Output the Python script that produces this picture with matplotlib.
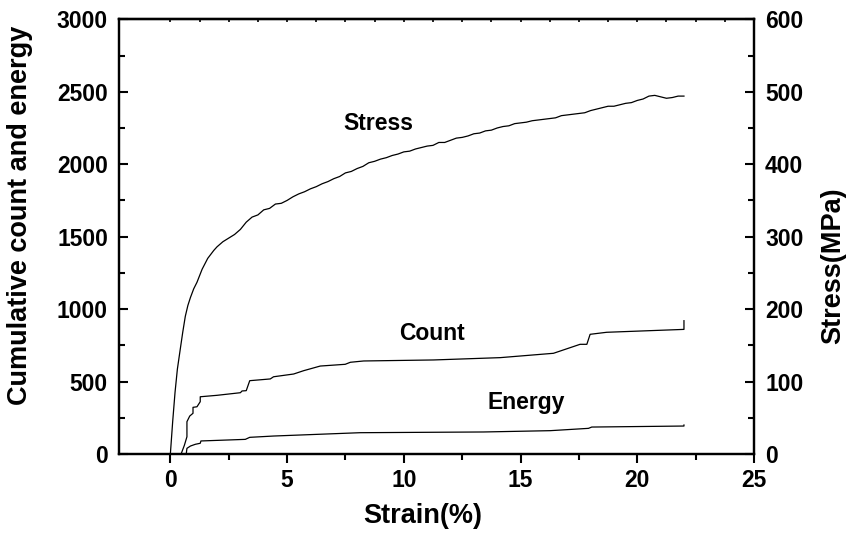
import numpy as np
import matplotlib
matplotlib.use("Agg")
import matplotlib.pyplot as plt
from matplotlib.ticker import MultipleLocator

# Tensile stress-strain curve (right axis, MPa)
stress_strain = [0, 0.1, 0.2, 0.3, 0.43, 0.53, 0.64, 0.75, 0.86, 1.0, 1.14, 1.36,
                 1.6, 1.86,
                 2.0, 2.25, 2.5, 2.75, 3.0, 3.25, 3.5, 3.75, 4.0, 4.25, 4.5, 4.75,
                 5.0, 5.25, 5.5, 5.75, 6.0, 6.25, 6.5, 6.75, 7.0, 7.25, 7.5, 7.75,
                 8.0, 8.25, 8.5, 8.75, 9.0, 9.25, 9.5, 9.75, 10.0, 10.25, 10.5, 10.75,
                 11.0, 11.25, 11.5, 11.75, 12.0, 12.25, 12.5, 12.75, 13.0, 13.25,
                 13.5, 13.75, 14.0, 14.25, 14.5, 14.75, 15.0, 15.25, 15.5, 15.75,
                 16.0, 16.25, 16.5, 16.75, 17.0, 17.25, 17.5, 17.75, 18.0, 18.25,
                 18.5, 18.75, 19.0, 19.25, 19.5, 19.75, 20.0, 20.25, 20.5, 20.75,
                 21.0, 21.25, 21.5, 21.75, 22.0]
stress_mpa = [0, 45, 85, 117, 146, 168, 190, 205, 216, 228, 237, 255,
              270, 281,
              286, 293, 298, 303, 310, 320, 327, 330, 337, 339, 345, 346,
              350, 355, 359, 362, 366, 369, 373, 376, 380, 383, 388, 390,
              394, 397, 402, 404, 407, 409, 412, 414, 417, 418, 421, 423,
              425, 426, 430, 430, 433, 436, 437, 439, 442, 443,
              446, 447, 450, 452, 453, 456, 457, 458, 460, 461,
              462, 463, 464, 467, 468, 469, 470, 471, 474, 476,
              478, 480, 480, 482, 484, 485, 488, 490, 494, 495,
              493, 491, 492, 494, 494]

# Cumulative acoustic-emission count (left axis)
count_strain = [0.46, 0.6, 0.71, 0.71, 0.83, 0.97, 0.97, 1.14, 1.28, 1.28, 2.0,
                3.0, 3.07, 3.25, 3.4, 4.28, 4.42, 5.28, 5.71, 6.42, 7.49, 7.71,
                8.28, 11.27, 14.13, 16.41, 17.55, 17.84, 17.98, 18.69, 22.0, 22.0]
count_vals = [0, 60, 119, 223, 262, 281, 322, 326, 361, 395, 405,
              423, 435, 437, 506, 518, 533, 552, 575, 607, 619, 633,
              642, 649, 665, 695, 757, 757, 826, 840, 860, 920]

# Cumulative acoustic-emission energy (left axis)
energy_strain = [0.68, 0.71, 0.86, 1.07, 1.28, 1.31, 3.21, 3.4, 4.42, 8.13,
                 13.41, 16.27, 17.91, 18.05, 22.0, 22.0]
energy_vals = [0, 39, 55, 67, 74, 90, 101, 115, 124, 147,
               152, 161, 177, 186, 193, 200]

x_ticks = [0, 5, 10, 15, 20, 25]
left_ticks = [0, 500, 1000, 1500, 2000, 2500, 3000]
right_ticks = [0, 100, 200, 300, 400, 500, 600]

FONT = "Liberation Sans"
plt.rcParams["font.family"] = [FONT, "DejaVu Sans"]
plt.rcParams["font.weight"] = "bold"

fig = plt.figure(figsize=(8.53, 5.35), dpi=100)
ax = fig.add_axes([119 / 853, 81 / 535, 635 / 853, 434.7 / 535])
ax2 = ax.twinx()

lw = 0.9
ax.plot(count_strain, count_vals, color="black", lw=lw)
ax.plot(energy_strain, energy_vals, color="black", lw=lw)
ax2.plot(stress_strain, stress_mpa, color="black", lw=lw)

ax.set_xlim(-2.2, 25)
ax.set_ylim(0, 3000)
ax2.set_ylim(0, 600)

ax.set_xticks(x_ticks)
ax.xaxis.set_minor_locator(MultipleLocator(2.5))
ax.set_yticks(left_ticks)
ax.yaxis.set_minor_locator(MultipleLocator(250))
ax2.set_yticks(right_ticks)
ax2.yaxis.set_minor_locator(MultipleLocator(50))

tick_fs = 16.5
ax.tick_params(axis="x", which="major", direction="out", length=6.5, width=1.5,
               labelsize=tick_fs, pad=4, top=False)
ax.tick_params(axis="x", which="minor", direction="out", length=4, width=1.5, top=False)
ax.tick_params(axis="y", which="major", direction="in", length=6.5, width=1.5,
               labelsize=tick_fs, pad=8, right=False)
ax.tick_params(axis="y", which="minor", direction="in", length=4.5, width=1.5, right=False)
ax2.tick_params(axis="y", which="major", direction="in", length=6.5, width=1.5,
                labelsize=tick_fs, pad=8)
ax2.tick_params(axis="y", which="minor", direction="in", length=4.5, width=1.5)

# small inward ticks along the top frame
top = ax.secondary_xaxis("top")
top.set_xticks(np.arange(0, 25.01, 1.25))
top.tick_params(direction="in", length=2.5, width=1.2, labeltop=False)

for a in (ax, ax2):
    for s in a.spines.values():
        s.set_linewidth(1.6)
top.spines["top"].set_linewidth(1.6)

for lab in ax.get_xticklabels() + ax.get_yticklabels() + ax2.get_yticklabels():
    lab.set_fontweight("bold")

label_fs = 19.5
ax.set_xlabel("Strain(%)", fontsize=label_fs, fontweight="bold")
ax.xaxis.set_label_coords(0.479, -0.112)
ax.set_ylabel("Cumulative count and energy", fontsize=label_fs, fontweight="bold")
ax.yaxis.set_label_coords(-0.135, 0.55)
ax2.set_ylabel("Stress(MPa)", fontsize=label_fs, fontweight="bold")
ax2.yaxis.set_label_coords(1.104, 0.4325)

ann_fs = 16.5
ax.text(8.9, 2236, "Stress", fontsize=ann_fs, fontweight="bold", ha="center", va="baseline")
ax.text(11.2, 787, "Count", fontsize=ann_fs, fontweight="bold", ha="center", va="baseline")
ax.text(15.23, 308, "Energy", fontsize=ann_fs, fontweight="bold", ha="center", va="baseline")

fig.savefig("out.png", dpi=100)
